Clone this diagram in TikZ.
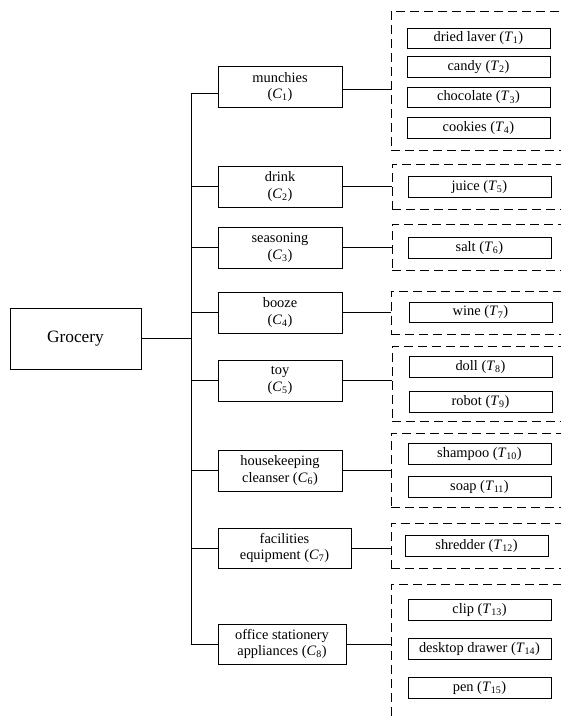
\documentclass[tikz,border=0pt]{standalone}
\usepackage{fontspec}
\setmainfont{Liberation Serif}
\newcommand\Sym[2]{(\textit{#1}\textsubscript{#2})}
\begin{document}
\begin{tikzpicture}[x=1pt,y=-1pt,
  every node/.style={inner sep=0pt, outer sep=0pt},
  cat/.style={draw, line width=0.9pt, align=center, minimum width=124pt, minimum height=41pt, font=\fontsize{14.4}{16.5}\selectfont},
  leaf/.style={draw, line width=0.9pt, minimum width=143pt, minimum height=20.5pt, font=\fontsize{14.4}{16}\selectfont},
  grp/.style={draw, dash pattern=on 9pt off 5pt, line width=0.9pt, minimum width=190pt},
  link/.style={line width=0.9pt}]
\useasboundingbox (0,0) rectangle (561,716);
\clip (0,0) rectangle (561,716);

% root
\node[draw, line width=0.9pt, minimum width=131pt, minimum height=61pt, font=\fontsize{17.3}{20}\selectfont] (G) at (75.5,338.5) {Grocery};

% categories
\node[cat, minimum height=40.7pt] (C1) at (280,87) {munchies\\\Sym{C}{1}};
\node[cat] (C2) at (280,186.5) {drink\\\Sym{C}{2}};
\node[cat, minimum height=40.3pt] (C3) at (280,247.8) {seasoning\\\Sym{C}{3}};
\node[cat] (C4) at (280,312.5) {booze\\\Sym{C}{4}};
\node[cat] (C5) at (280,380.5) {toy\\\Sym{C}{5}};
\node[cat] (C6) at (280,470.5) {housekeeping\\cleanser \Sym{C}{6}};
\node[cat, minimum height=40pt, minimum width=133pt] (C7) at (284.5,548) {facilities\\equipment \Sym{C}{7}};
\node[cat, minimum height=40pt, minimum width=128pt] (C8) at (282,644) {office stationery\\appliances \Sym{C}{8}};

% dashed groups
\node[grp, minimum height=138.3pt] (D1) at (486,80.85) {};
\node[grp, minimum height=45pt] (D2) at (487,186.5) {};
\node[grp, minimum height=46.7pt] (D3) at (487,247.3) {};
\node[grp, minimum height=43pt] (D4) at (486,312.5) {};
\node[grp, minimum height=75pt] (D5) at (487,383.5) {};
\node[grp, minimum height=74pt] (D6) at (486,470) {};
\node[grp, minimum height=45pt] (D7) at (486,545.5) {};
\node[grp, minimum height=141pt] (D8) at (486,654.5) {};

% leaves
\node[leaf] (T1) at (478.5,38.2) {dried laver \Sym{T}{1}};
\node[leaf] (T2) at (478.5,66.7) {candy \Sym{T}{2}};
\node[leaf] (T3) at (478.5,97.5) {chocolate \Sym{T}{3}};
\node[leaf] (T4) at (478.5,127.7) {cookies \Sym{T}{4}};
\node[leaf] (T5) at (479.5,186.7) {juice \Sym{T}{5}};
\node[leaf] (T6) at (479.5,248) {salt \Sym{T}{6}};
\node[leaf] (T7) at (480.5,312.5) {wine \Sym{T}{7}};
\node[leaf] (T8) at (480.5,367) {doll \Sym{T}{8}};
\node[leaf] (T9) at (480.5,402) {robot \Sym{T}{9}};
\node[leaf] (T10) at (479.5,454) {shampoo \Sym{T}{10}};
\node[leaf] (T11) at (479.5,487) {soap \Sym{T}{11}};
\node[leaf] (T12) at (476.5,546) {shredder \Sym{T}{12}};
\node[leaf] (T13) at (479.5,610) {clip \Sym{T}{13}};
\node[leaf] (T14) at (479.5,649) {desktop drawer \Sym{T}{14}};
\node[leaf] (T15) at (479.5,688) {pen \Sym{T}{15}};

% trunk
\coordinate (top) at (191,93.3);
\coordinate (bot) at (191,644);
\draw[link] (top) -- (bot);
\draw[link] (G.east) -- (G.east -| top);
\draw[link] ([yshift=-6.3pt]C1.west) -- (top);
\draw[link] ([yshift=-2.3pt]C1.east) -- ([yshift=-2.3pt]C1.east -| D1.west);
\foreach \i in {2,...,8}{
  \draw[link] (C\i.west) -- (C\i.west -| top);
  \draw[link] (C\i.east) -- (C\i.east -| D\i.west);
}
\end{tikzpicture}
\end{document}
